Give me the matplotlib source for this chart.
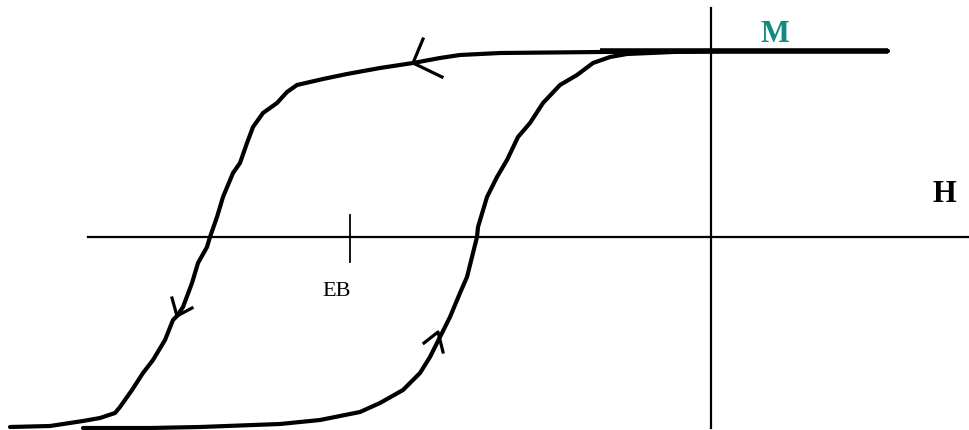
# Boucle d'hystérésis avec décalage d'échange (EB)
import matplotlib.pyplot as plt

# branche descendante (H décroissant)
h_desc = [177, -11, -111, -211, -251, -271, -298, -331, -364, -388, -414, -424, -434,
          -448, -458, -464, -471, -478, -488, -494, -501, -504, -513, -519, -528, -534,
          -538, -546, -558, -568, -579, -591, -596, -611, -628, -661, -701]
m_desc = [186, 186, 185, 184, 182, 179, 174, 169, 163, 158, 152, 145, 134,
          124, 110, 94, 74, 64, 40, 20, 0, -10, -26, -46, -70, -79,
          -83, -103, -123, -136, -153, -170, -176, -181, -184, -189, -190]

# branche montante (H croissant)
h_asc = [-628, -561, -511, -431, -391, -351, -331, -308, -291, -281, -271, -261, -251,
         -244, -239, -234, -233, -224, -214, -204, -193, -181, -168, -151, -134, -118,
         -101, -84, -38, 9]
m_asc = [-191, -191, -190, -187, -183, -175, -166, -153, -136, -120, -100, -80, -56,
         -40, -20, 0, 10, 40, 60, 77, 100, 114, 134, 152, 162, 174,
         180, 183, 185, 186]

# flèches : (sommet, extrémité 1, extrémité 2)
fleches = [
    ((-298, 174), (-288, 198), (-269, 160)),
    ((-534, -79), (-539, -61), (-519, -71)),
    ((-273, -95), (-287, -106), (-268, -115)),
]

h_eb = -361

fig = plt.figure(figsize=(9.69, 4.30), dpi=100)
ax = fig.add_axes([0, 0, 1, 1])
ax.set_xlim(-711, 258)
ax.set_ylim(-193, 237)
ax.axis('off')

# axes H et M
ax.plot([-623, 258], [0, 0], color='black', lw=1.6)
ax.plot([0, 0], [-191, 229], color='black', lw=1.6)
ax.plot([h_eb, h_eb], [-25, 22], color='black', lw=1.3)

# saturation
ax.plot([-111, 177], [186, 186], color='black', lw=4, solid_capstyle='butt')

ax.plot(h_desc, m_desc, color='black', lw=3, solid_joinstyle='round', solid_capstyle='round')
ax.plot(h_asc, m_asc, color='black', lw=3, solid_joinstyle='round', solid_capstyle='round')

for s, a, b in fleches:
    ax.plot([a[0], s[0], b[0]], [a[1], s[1], b[1]], color='black', lw=2.3)

ax.text(h_eb - 13, -55, 'EB', fontsize=16, family='Liberation Serif', ha='center', va='center')
ax.text(64, 202, 'M', fontsize=22, family='Liberation Serif', fontweight='bold',
        color='#138a80', ha='center', va='center')
ax.text(233, 42, 'H', fontsize=22, family='Liberation Serif', fontweight='bold',
        ha='center', va='center')

fig.savefig('out.png', dpi=100)
